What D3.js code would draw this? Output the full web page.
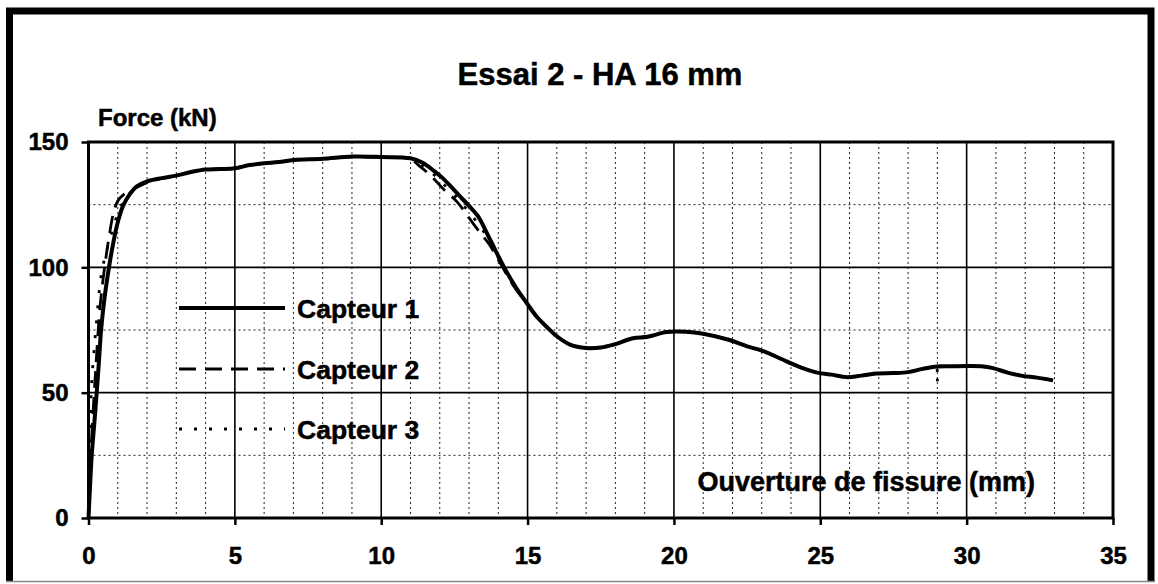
<!DOCTYPE html>
<html>
<head>
<meta charset="utf-8">
<script src="https://cdn.jsdelivr.net/npm/d3@7"></script>
<style>
  html, body { margin: 0; padding: 0; background: #fff; }
  svg { display: block; }
  text { font-family: "Liberation Sans", Arial, sans-serif; font-weight: bold; fill: #000; stroke: #000; stroke-width: 0.5px; }
</style>
</head>
<body>
<div id="chart"></div>
<script>
// Essai 2 - HA 16 mm : force vs crack opening, three sensors
const xTicks = [0, 5, 10, 15, 20, 25, 30, 35];
const yTicks = [0, 50, 100, 150];
const seriesNames = ["Capteur 1", "Capteur 2", "Capteur 3"];

// Capteur 1 : [ouverture (mm), force (kN)]
const capteur1 = [
  [0, 0], [0.05, 12], [0.11, 25], [0.2, 38], [0.28, 50], [0.36, 63], [0.43, 75],
  [0.55, 88], [0.7, 100], [0.85, 110], [1.0, 118], [1.18, 124.5], [1.4, 129],
  [1.65, 132.3], [2.0, 134.3], [2.5, 135.6], [3.0, 136.6], [3.5, 138], [4.0, 139],
  [4.5, 139.2], [5.0, 139.5], [5.5, 140.8], [6.0, 141.5], [6.5, 142], [7.0, 142.8],
  [8.0, 143.3], [9.0, 144.2], [10.0, 144], [11.0, 143.5], [11.4, 141.8], [11.8, 138.5],
  [12.1, 135.6], [12.4, 132], [12.7, 128.2], [13.0, 124.5], [13.3, 120.5], [13.7, 111.5],
  [14.2, 100], [14.6, 92], [15.0, 85.3], [15.3, 80.5], [15.65, 76.3], [16.0, 72.5],
  [16.45, 69.2], [17.0, 67.8], [17.5, 68], [17.95, 69.2], [18.6, 71.7], [19.1, 72.3],
  [19.75, 74.2], [20.4, 74.3], [21.0, 73.5], [21.9, 71], [22.5, 68.5], [23.0, 66.8],
  [23.85, 62.5], [24.4, 59.8], [24.9, 58], [25.4, 57.2], [25.9, 56.2], [26.4, 56.8],
  [26.9, 57.6], [27.5, 57.8], [28.0, 58.2], [28.5, 59.5], [29.0, 60.4], [29.5, 60.5],
  [30.0, 60.6], [30.5, 60.5], [30.9, 59.8], [31.4, 58], [31.9, 56.7], [32.4, 56],
  [32.95, 54.9]
];

// Capteur 2
const capteur2 = [
  [0, 0], [0.1, 30], [0.25, 60], [0.4, 85], [0.55, 100], [0.7, 112], [0.85, 121.5],
  [1.0, 126.5], [1.2, 129], [1.5, 131], [2.0, 133.8], [2.5, 135.5], [3.0, 136.6],
  [3.5, 138], [4.0, 139], [4.5, 139.2], [5.0, 139.6], [5.5, 140.8], [6.0, 141.5],
  [6.5, 142], [7.0, 142.8], [8.0, 143.3], [9.0, 144.1], [10.0, 143.9], [11.0, 143.2],
  [11.3, 140.5], [11.7, 136.5], [12.1, 131.5], [12.6, 126], [13.0, 119.7], [13.4, 113.5],
  [13.7, 109], [14.1, 101], [14.5, 93], [15.0, 85], [15.3, 80.3], [15.65, 76.2],
  [16.0, 72.5], [16.45, 69.2], [17.0, 67.8], [17.5, 68], [17.95, 69.2], [18.6, 71.7],
  [19.1, 72.3], [19.75, 74.2], [20.4, 74.3], [21.0, 73.5], [21.9, 71], [22.5, 68.5],
  [23.0, 66.8], [23.85, 62.5], [24.4, 59.8], [24.9, 58], [25.4, 57.2], [25.9, 56.2],
  [26.4, 56.8], [26.9, 57.6], [27.5, 57.8], [28.0, 58.2], [28.5, 59.5], [29.0, 60.4],
  [29.5, 60.5], [30.0, 60.6], [30.5, 60.5], [30.9, 59.8], [31.4, 58], [31.9, 56.7],
  [32.4, 56], [32.95, 54.9]
];

// Capteur 3
const capteur3 = [
  [0, 0], [0.03, 15], [0.06, 35], [0.1, 52], [0.25, 75], [0.45, 98], [0.65, 108],
  [0.85, 116], [1.05, 123], [1.3, 128], [1.65, 132], [2.0, 134.2], [2.5, 135.5],
  [3.0, 136.6], [3.5, 138], [4.0, 139], [4.5, 139.2], [5.0, 139.5], [5.5, 140.8],
  [6.0, 141.5], [6.5, 142], [7.0, 142.8], [8.0, 143.3], [9.0, 144.2], [10.0, 144],
  [11.0, 143.4], [11.35, 141], [11.75, 137.5], [12.1, 133.5], [12.6, 127.5], [13.0, 122],
  [13.4, 116], [13.7, 110.5], [14.15, 100.5], [14.55, 92.5], [15.0, 85.2], [15.3, 80.4],
  [15.65, 76.3], [16.0, 72.5], [16.45, 69.2], [17.0, 67.8], [17.5, 68], [17.95, 69.2],
  [18.6, 71.7], [19.1, 72.3], [19.75, 74.2], [20.4, 74.3], [21.0, 73.5], [21.9, 71],
  [22.5, 68.5], [23.0, 66.8], [23.85, 62.5], [24.4, 59.8], [24.9, 58], [25.4, 57.2],
  [25.9, 56.2], [26.4, 56.8], [26.9, 57.6], [27.5, 57.8], [28.0, 58.2], [28.5, 59.5],
  [28.95, 60.3], [29.0, 54], [29.05, 60.4], [29.5, 60.5], [30.0, 60.6], [30.5, 60.5],
  [30.9, 59.8], [31.4, 58], [31.9, 56.7], [32.4, 56], [32.95, 54.9]
];

const W = 1158, H = 584;
const plot = { left: 88.5, right: 1113, top: 142, bottom: 518 };

const svg = d3.select("#chart").append("svg").attr("width", W).attr("height", H);

// outer frame
svg.append("path")
  .attr("d", `M9.5,582 L9.5,11 L1151,11 L1151,582`)
  .attr("fill", "none").attr("stroke", "#000").attr("stroke-width", 7);
svg.append("line").attr("x1", 6).attr("x2", 1155).attr("y1", 581.5).attr("y2", 581.5)
  .attr("stroke", "#888").attr("stroke-width", 1.5);

const x = d3.scaleLinear().domain([0, 35]).range([plot.left, plot.right]);
const y = d3.scaleLinear().domain([0, 150]).range([plot.bottom, plot.top]);

// grid: minor dotted every 1 mm / 25 kN, major solid every 5 mm / 50 kN
const grid = svg.append("g");
const minorX = d3.range(1, 35).filter(v => v % 5 !== 0);
const minorY = [25, 75, 125];
grid.selectAll("line.mx").data(minorX).join("line")
  .attr("x1", d => x(d)).attr("x2", d => x(d)).attr("y1", plot.top).attr("y2", plot.bottom)
  .attr("stroke", "#222").attr("stroke-width", 1).attr("stroke-dasharray", "2,3");
grid.selectAll("line.my").data(minorY).join("line")
  .attr("x1", plot.left).attr("x2", plot.right).attr("y1", d => y(d)).attr("y2", d => y(d))
  .attr("stroke", "#222").attr("stroke-width", 1).attr("stroke-dasharray", "2,3");
grid.selectAll("line.Mx").data(xTicks.filter(v => v > 0 && v < 35)).join("line")
  .attr("x1", d => x(d)).attr("x2", d => x(d)).attr("y1", plot.top).attr("y2", plot.bottom)
  .attr("stroke", "#000").attr("stroke-width", 1.6);
grid.selectAll("line.My").data(yTicks.filter(v => v > 0 && v < 150)).join("line")
  .attr("x1", plot.left).attr("x2", plot.right).attr("y1", d => y(d)).attr("y2", d => y(d))
  .attr("stroke", "#000").attr("stroke-width", 1.6);

// plot border
svg.append("rect")
  .attr("x", plot.left).attr("y", plot.top)
  .attr("width", plot.right - plot.left).attr("height", plot.bottom - plot.top)
  .attr("fill", "none").attr("stroke", "#000").attr("stroke-width", 3);

// axes
const xAxis = svg.append("g").attr("transform", `translate(0,${plot.bottom})`)
  .call(d3.axisBottom(x).tickValues(xTicks).tickSize(7).tickPadding(22).tickFormat(d3.format("d")));
const yAxis = svg.append("g").attr("transform", `translate(${plot.left},0)`)
  .call(d3.axisLeft(y).tickValues(yTicks).tickSize(7).tickPadding(13).tickFormat(d3.format("d")));
[xAxis, yAxis].forEach(a => {
  a.select(".domain").remove();
  a.selectAll(".tick line").attr("stroke", "#000").attr("stroke-width", 2.5);
  a.selectAll(".tick text").style("font-size", "24px").style("font-family", "Liberation Sans, Arial, sans-serif")
    .style("font-weight", "bold").attr("fill", "#000").attr("stroke", "#000").attr("stroke-width", 0.5);
});

// series
const line = d3.line().x(d => x(d[0])).y(d => y(d[1])).curve(d3.curveCatmullRom.alpha(0.5));
const styles = [
  { data: capteur1, width: 4, dash: null },
  { data: capteur2, width: 2.8, dash: "17,9" },
  { data: capteur3, width: 2.8, dash: "3,12" }
];
styles.slice().reverse().forEach(s => {
  svg.append("path").datum(s.data).attr("d", line)
    .attr("fill", "none").attr("stroke", "#000").attr("stroke-width", s.width)
    .attr("stroke-dasharray", s.dash).attr("stroke-linejoin", "round");
});

// legend
const legendY = [308, 369, 429];
const legend = svg.append("g");
styles.forEach((s, i) => {
  legend.append("line").attr("x1", 179).attr("x2", 285).attr("y1", legendY[i]).attr("y2", legendY[i])
    .attr("stroke", "#000").attr("stroke-width", s.width).attr("stroke-dasharray", s.dash);
  legend.append("text").attr("x", 297).attr("y", legendY[i] + 10)
    .style("font-size", "26.5px").text(seriesNames[i]);
});

// titles
svg.append("text").attr("x", 600).attr("y", 85).attr("text-anchor", "middle")
  .style("font-size", "31px").text("Essai 2 - HA 16 mm");
svg.append("text").attr("x", 98).attr("y", 126)
  .style("font-size", "24px").text("Force (kN)");
svg.append("text").attr("x", 1035).attr("y", 491).attr("text-anchor", "end")
  .style("font-size", "27px").text("Ouverture de fissure (mm)");
</script>
</body>
</html>
